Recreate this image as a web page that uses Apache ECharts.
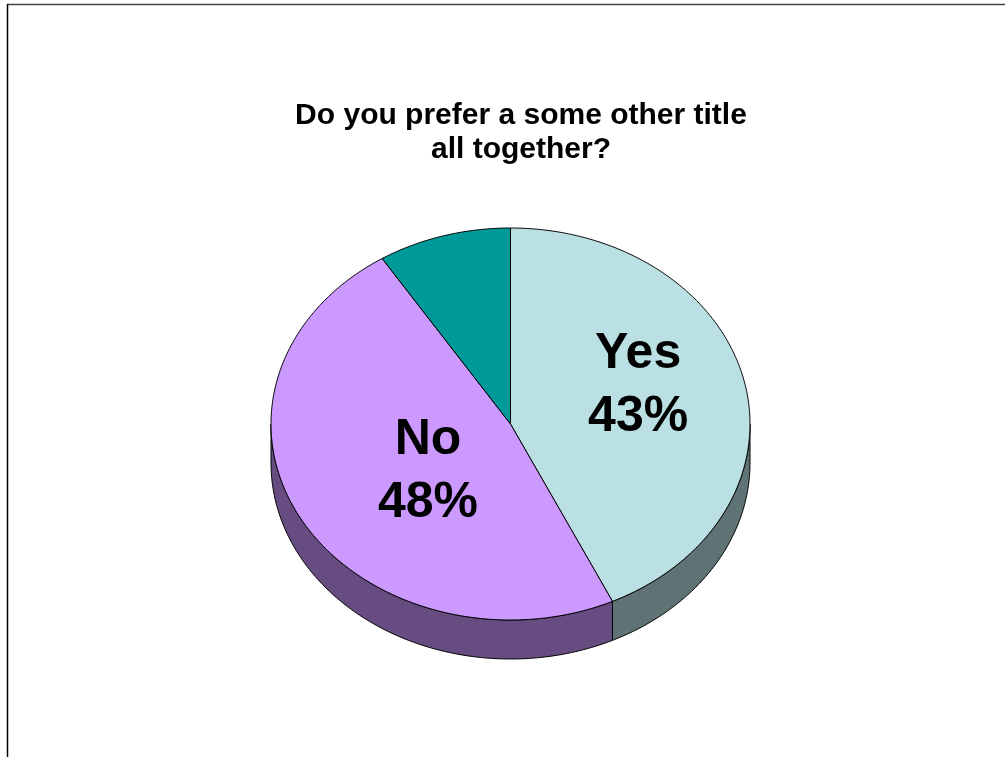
<!DOCTYPE html>
<html>
<head>
<meta charset="utf-8">
<script src="https://cdn.jsdelivr.net/npm/echarts@6/dist/echarts.min.js"></script>
<style>
html,body{margin:0;padding:0;background:#fff;}
#chart{width:1005px;height:757px;}
</style>
</head>
<body>
<div id="chart"></div>
<script>
// ---- data ----
const titleText = 'Do you prefer a some other title\nall together?';
const categories = ['Yes', 'No', 'Other'];
const values = [43, 48, 9];
const showLabel = [true, true, false];

// ---- style ----
const topColors = ['#BBE0E3', '#CC99FF', '#009999'];
const sideColors = ['#5F7374', '#664C80', '#004D4D'];
const labelRadius = [0.546, 0.393, 0.5];
const labelShift = [-15, 11, 0];
const CX = 510.5, CY = 424, RX = 239.5, RY = 196, DEPTH = 39;

const total = values.reduce((a, b) => a + b, 0);
const starts = [];
let acc = 0;
values.forEach(v => { starts.push(acc / total * 360); acc += v; });

function pt(deg, r, dy) {
  const t = deg * Math.PI / 180;
  return [CX + RX * r * Math.sin(t), CY - RY * r * Math.cos(t) + (dy || 0)];
}
function arc(a0, a1, dy) {
  const pts = [];
  const n = Math.max(2, Math.ceil(Math.abs(a1 - a0) / 0.5));
  for (let k = 0; k <= n; k++) pts.push(pt(a0 + (a1 - a0) * k / n, 1, dy));
  return pts;
}

const chart = echarts.init(document.getElementById('chart'));
chart.setOption({
  backgroundColor: '#fff',
  animation: false,
  title: {
    text: titleText,
    left: 516,
    top: 94,
    textAlign: 'center',
    textStyle: {
      fontFamily: 'Arial, "Liberation Sans", sans-serif',
      fontSize: 30,
      fontWeight: 'bold',
      color: '#000',
      lineHeight: 34
    }
  },
  graphic: [
    { type: 'line', shape: { x1: 7, y1: 4.5, x2: 1005, y2: 4.5 }, style: { stroke: '#444', lineWidth: 1.5 }, silent: true },
    { type: 'line', shape: { x1: 7.5, y1: 4, x2: 7.5, y2: 757 }, style: { stroke: '#000', lineWidth: 1.5 }, silent: true }
  ],
  series: [{
    type: 'custom',
    coordinateSystem: 'none',
    data: values.map((v, i) => ({ value: v, name: categories[i] })),
    renderItem: function (params, api) {
      const i = params.dataIndex;
      const v = api.value(0);
      const a0 = starts[i];
      const a1 = a0 + v / total * 360;
      const children = [];
      // side face (front half only)
      const s0 = Math.max(a0, 90), s1 = Math.min(a1, 270);
      if (s1 > s0) {
        const pts = arc(s0, s1, 0).concat(arc(s1, s0, DEPTH));
        children.push({
          type: 'polygon', z2: 1,
          shape: { points: pts },
          style: { fill: sideColors[i], stroke: '#000', lineWidth: 1 }
        });
      }
      // top face
      const topPts = [[CX, CY]].concat(arc(a0, a1, 0));
      children.push({
        type: 'polygon', z2: 2,
        shape: { points: topPts },
        style: { fill: topColors[i], stroke: '#000', lineWidth: 1 }
      });
      if (showLabel[i]) {
        const mid = (a0 + a1) / 2;
        const p = pt(mid, labelRadius[i], labelShift[i]);
        children.push({
          type: 'text', z2: 10,
          x: p[0], y: p[1],
          style: {
            text: categories[i] + '\n' + Math.round(v / total * 100) + '%',
            fontFamily: 'Arial, "Liberation Sans", sans-serif',
            fontSize: 50,
            fontWeight: 'bold',
            fill: '#000',
            lineHeight: 63,
            align: 'center',
            verticalAlign: 'middle'
          }
        });
      }
      return { type: 'group', children: children };
    }
  }]
});
</script>
</body>
</html>
